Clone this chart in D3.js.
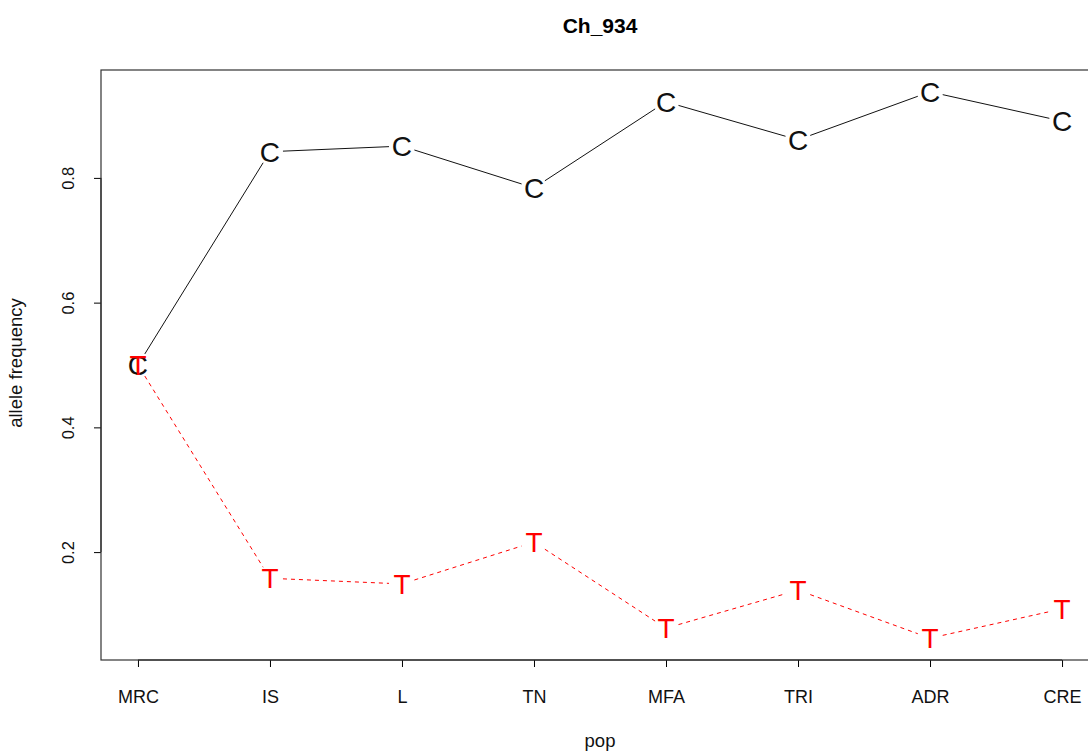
<!DOCTYPE html>
<html>
<head>
<meta charset="utf-8">
<script src="https://cdn.jsdelivr.net/npm/d3@7"></script>
<style>
  body { margin: 0; background: #fff; }
  svg text { font-family: "Liberation Sans", Arial, sans-serif; }
</style>
</head>
<body>
<svg id="svg" width="1088" height="753"></svg>
<script>
'use strict';

var pops = ['MRC', 'IS', 'L', 'TN', 'MFA', 'TRI', 'ADR', 'CRE'];
var freqC = [0.500, 0.842, 0.851, 0.784, 0.922, 0.861, 0.938, 0.891];
var freqT = [0.500, 0.158, 0.149, 0.216, 0.078, 0.139, 0.062, 0.109];
var yTicks = [0.2, 0.4, 0.6, 0.8];

var svg = d3.select('#svg');
var box = {left: 101, right: 1099, top: 70, bottom: 660};

// R-style 4% padding on both axes
var x = d3.scaleLinear().domain([1 - 0.28, 8 + 0.28]).range([box.left, box.right]);
var y = d3.scaleLinear().domain([0.027, 0.973]).range([box.bottom, box.top]);

svg.append('text')
    .attr('x', (box.left + box.right) / 2)
    .attr('y', 33)
    .attr('text-anchor', 'middle')
    .attr('font-size', 21)
    .attr('font-weight', 'bold')
    .text('Ch_934');

// x axis
var xAxis = d3.axisBottom(x)
    .tickValues(d3.range(1, pops.length + 1))
    .tickFormat(function(d) { return pops[d - 1]; })
    .tickSize(7);
var gx = svg.append('g').attr('transform', 'translate(0,' + box.bottom + ')').call(xAxis);
gx.select('.domain').attr('d', 'M' + x(1) + ',0H' + x(pops.length));
gx.selectAll('.tick text')
    .attr('font-size', 18)
    .attr('font-family', '"Liberation Sans", Arial, sans-serif')
    .attr('fill', '#111')
    .attr('y', 43).attr('dy', null);

// y axis
var yAxis = d3.axisLeft(y).tickValues(yTicks).tickFormat(d3.format('.1f')).tickSize(7);
var gy = svg.append('g').attr('transform', 'translate(' + box.left + ',0)').call(yAxis);
gy.select('.domain').attr('d', 'M0,' + y(yTicks[0]) + 'V' + y(yTicks[yTicks.length - 1]));
gy.selectAll('.tick text')
    .attr('font-size', 16.5)
    .attr('font-family', '"Liberation Sans", Arial, sans-serif')
    .attr('fill', '#111')
    .attr('x', null).attr('dy', null)
    .attr('text-anchor', 'middle')
    .attr('transform', 'translate(-27,0) rotate(-90)');

svg.append('rect')
    .attr('x', box.left).attr('y', box.top)
    .attr('width', box.right - box.left).attr('height', box.bottom - box.top)
    .attr('fill', 'none').attr('stroke', '#333').attr('stroke-width', 1.2);

svg.append('text')
    .attr('x', (box.left + box.right) / 2).attr('y', 747)
    .attr('text-anchor', 'middle').attr('font-size', 18.5).attr('fill', '#111').text('pop');

svg.append('text')
    .attr('transform', 'translate(22,' + ((box.top + box.bottom) / 2 - 2) + ') rotate(-90)')
    .attr('text-anchor', 'middle').attr('font-size', 18.5).attr('fill', '#111').text('allele frequency');

// lines with gaps around the letters (type = "b")
function drawSeries(vals, letter, color, dash) {
  var pts = vals.map(function(v, i) { return [x(i + 1), y(v)]; });
  var gap = 13;
  for (var i = 0; i < pts.length - 1; i++) {
    var a = pts[i], b = pts[i + 1];
    var dx = b[0] - a[0], dy = b[1] - a[1], len = Math.sqrt(dx * dx + dy * dy);
    if (len <= 2 * gap) continue;
    var ux = dx / len, uy = dy / len;
    svg.append('line')
        .attr('x1', a[0] + ux * gap).attr('y1', a[1] + uy * gap)
        .attr('x2', b[0] - ux * gap).attr('y2', b[1] - uy * gap)
        .attr('stroke', color).attr('stroke-width', 1)
        .attr('stroke-dasharray', dash);
  }
  svg.selectAll('.pt-' + letter)
      .data(pts).enter()
      .append('text')
      .attr('class', 'pt-' + letter)
      .attr('x', function(d) { return d[0]; })
      .attr('y', function(d) { return d[1] + 10; })
      .attr('text-anchor', 'middle')
      .attr('font-size', 28)
      .attr('fill', color)
      .text(letter);
}

drawSeries(freqC, 'C', '#111', null);
drawSeries(freqT, 'T', '#ff0000', '4,4');
</script>
</body>
</html>
